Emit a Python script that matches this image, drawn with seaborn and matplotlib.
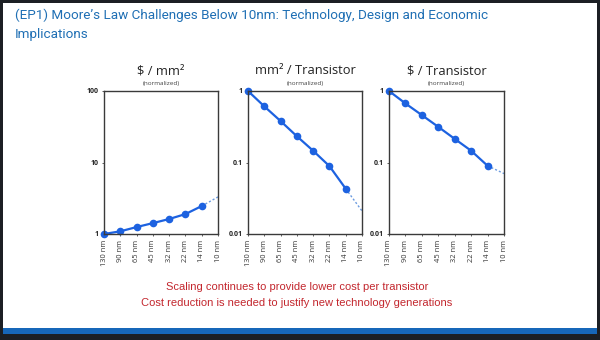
import matplotlib
matplotlib.use("Agg")
import matplotlib.pyplot as plt
import seaborn as sns
import pandas as pd
from matplotlib.patches import Rectangle

nodes = ["130 nm", "90 nm", "65 nm", "45 nm", "32 nm", "22 nm", "14 nm", "10 nm"]
cost_per_area = [1.0, 1.09, 1.25, 1.42, 1.62, 1.9, 2.46]
cost_per_area_proj = [2.46, 3.3]
area_per_transistor = [1.0, 0.61, 0.38, 0.233, 0.146, 0.089, 0.043]
area_per_transistor_proj = [0.043, 0.021]
cost_per_transistor = [1.0, 0.67, 0.46, 0.315, 0.214, 0.146, 0.09]
cost_per_transistor_proj = [0.09, 0.070]

titles = ["$ / mm\u00b2", "mm\u00b2 / Transistor", "$ / Transistor"]
subtitle = "(normalized)"
ylims = [(1, 100), (0.01, 1), (0.01, 1)]
yticks = [[1, 10, 100], [0.01, 0.1, 1], [0.01, 0.1, 1]]
yticklabels = [["1", "10", "100"], ["0.01", "0.1", "1"], ["0.01", "0.1", "1"]]
main_title = "(EP1) Moore\u2019s Law Challenges Below 10nm: Technology, Design and Economic\nImplications"
notes = ["Scaling continues to provide lower cost per transistor",
         "Cost reduction is needed to justify new technology generations"]

sns.set_theme(style="white")
plt.rcParams['font.family'] = ['Open Sans', 'DejaVu Sans']

W, H = 600, 340
fig = plt.figure(figsize=(6, 3.4), dpi=100, facecolor="#1c1f24")

def px(x0, y0, x1, y1):
    return [x0 / W, 1 - y1 / H, (x1 - x0) / W, (y1 - y0) / H]

# slide background
fig.patches.append(Rectangle((3 / W, 1 - 328 / H), 594 / W, 325 / H,
                             transform=fig.transFigure, facecolor="white",
                             edgecolor="none", zorder=-10))
fig.patches.append(Rectangle((3 / W, 1 - 334 / H), 594 / W, 6 / H,
                             transform=fig.transFigure, facecolor="#1767b9",
                             edgecolor="none", zorder=-10))

fig.text(15 / W, 1 - 9 / H, main_title, ha="left", va="top",
         fontsize=9.7, color="#1f6fb4", linespacing=1.6,
         family=['Roboto', 'DejaVu Sans'])

series = [(cost_per_area, cost_per_area_proj),
          (area_per_transistor, area_per_transistor_proj),
          (cost_per_transistor, cost_per_transistor_proj)]
boxes = [(104, 91, 218, 234), (248, 91, 362, 234), (389, 91, 504, 234)]
blue = "#1d62e0"

for i, ((vals, proj), box) in enumerate(zip(series, boxes)):
    ax = fig.add_axes(px(*box))
    ax.set_facecolor("white")
    df = pd.DataFrame({"node": nodes[:len(vals)], "x": range(len(vals)), "v": vals})
    dfp = pd.DataFrame({"x": [len(vals) - 1, len(vals)], "v": proj})
    sns.lineplot(data=dfp, x="x", y="v", ax=ax, color="#6b9be0",
                 linestyle=(0, (1.5, 1.5)), linewidth=1.0)
    sns.lineplot(data=df, x="x", y="v", ax=ax, color=blue, linewidth=1.6,
                 marker="o", markersize=5.5, markeredgewidth=0, clip_on=False)
    ax.set_yscale("log")
    ax.set_ylim(*ylims[i])
    ax.set_xlim(0, len(nodes) - 1)
    ax.set_xticks(range(len(nodes)))
    ax.set_xticklabels(nodes, rotation=90, fontsize=5.4, color="#333333")
    ax.set_yticks(yticks[i])
    ax.set_yticklabels(yticklabels[i], fontsize=5, color="#222222", fontweight="bold")
    ax.minorticks_off()
    ax.tick_params(axis="both", length=1.5, width=0.6, pad=2.5, color="#444444")
    ax.tick_params(axis="y", left=True)
    ax.tick_params(axis="x", bottom=True)
    ax.set_xlabel("")
    ax.set_ylabel("")
    for s in ax.spines.values():
        s.set_color("#3a3a3a")
        s.set_linewidth(1.0)
    cx = (box[0] + box[2]) / 2 / W
    fig.text(cx, 1 - 71 / H, titles[i], ha="center", va="center",
             fontsize=9.3, color="#222222")
    fig.text(cx, 1 - 83 / H, subtitle, ha="center", va="center",
             fontsize=4.6, color="#444444")

fig.text(297 / W, 1 - 287 / H, notes[0], ha="center", va="center",
         fontsize=8.0, color="#c3272e", family=['Liberation Sans', 'DejaVu Sans'])
fig.text(297 / W, 1 - 303 / H, notes[1], ha="center", va="center",
         fontsize=8.0, color="#c3272e", family=['Liberation Sans', 'DejaVu Sans'])

fig.savefig("out.png", dpi=100, facecolor=fig.get_facecolor())
